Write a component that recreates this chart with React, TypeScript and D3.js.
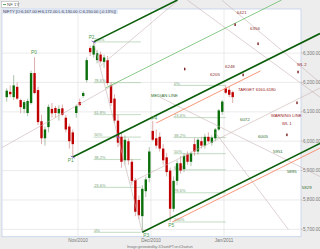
import React, { useEffect, useRef } from "react";
import * as d3 from "d3";

const W = 320;
const H = 249;

// ---- candle data (bar index 0..65) ----
const opens = [6150,6168,6150,6185,6140,6110,6096,6130,6232,6174,6068,6010,6048,6110,6113,6095,6112,6080,6050,6030,6096,6133,6154,6208,6317,6295,6276,6295,6270,6276,6190,6145,6070,6015,5935,6000,5930,5868,5800,5745,5830,5875,6035,6010,6015,5975,5945,5900,5770,5865,5925,5905,5955,5930,5990,5965,6000,5985,6015,5995,6010,6040,6100,6180,6175,6167];
const highs = [6180,6190,6225,6200,6145,6140,6145,6240,6286,6185,6090,6050,6125,6130,6120,6122,6125,6090,6060,6040,6125,6145,6170,6285,6325,6338,6310,6305,6295,6290,6200,6160,6090,6030,6020,6010,5940,5875,5815,5850,5880,5980,6069,6040,6030,5990,5960,5910,5880,5935,5950,5960,5965,5965,6010,6010,6015,6025,6030,6020,6045,6110,6140,6190,6185,6172];
const lows = [6135,6150,6140,6140,6095,6095,6085,6125,6160,6055,5990,5985,6030,6080,6080,6070,6085,6030,5975,5946,6080,6118,6148,6200,6290,6285,6265,6265,6250,6190,6120,6060,5980,5910,5920,5920,5850,5745,5735,5690,5810,5860,6000,5975,5965,5920,5880,5725,5760,5850,5890,5895,5920,5915,5950,5955,5975,5975,5995,5985,6000,6035,6090,6160,6150,6130];
const closes = [6172,6160,6190,6145,6116,6133,6137,6232,6164,6065,6010,6040,6117,6095,6096,6110,6090,6040,6000,5990,6120,6123,6164,6276,6303,6325,6300,6272,6285,6198,6130,6070,5995,5930,6005,5935,5865,5760,5748,5838,5870,5965,6005,5985,5975,5935,5895,5770,5865,5925,5900,5950,5930,5958,5965,6005,5985,6015,6000,6012,6040,6105,6135,6165,6158,6150];

// ---- axes ----
const priceTicks = [5700, 5800, 5900, 6000, 6100, 6200, 6300];
const timeTickPos = [20.5, 41.5, 62.5];
const timeTickLabels = ["Nov/2010", "Dec/2010", "Jan/2011"];

// ---- pivots ----
const pivotNames = ["P0", "P1", "P2", "P3", "P4", "P5"];
const pivotIdx = [8.4, 19, 25, 39, 43, 47.6];
const pivotPrice = [6286, 5946, 6338, 5690, 6062, 5725];

// ---- pitchfork (slope in price per bar) ----
const forkSlope = 5.915;
const forkEndIdx = 90.1;
const topPrice = 6480.6;

// ---- fibonacci retracements ----
const fibLevels = [0, 0.236, 0.382, 0.5, 0.618, 0.786, 1];
const fibLabels = ["0%", "23.6%", "38.2%", "50%", "61.8%", "78.6%", "100%"];
const fib1 = { from: 25, to: 38.6, low: 5690, high: 6338 };
const fib2 = { from: 48, to: 63, low: 5725, high: 6190 };

// ---- target numbers ----
const targetText = ["6421", "6356", "6248", "6205", "6072", "6005", "5951", "5895", "5829"];
const targetIdx = [66.2, 70, 62.8, 58.5, 67.1, 72.3, 76.6, 80.6, 84.9];
const targetPrice = [6433, 6379, 6249, 6222, 6069, 6011, 5960, 5892, 5837];
const targetTone = ["r", "r", "r", "r", "g", "g", "g", "g", "g"];

// ---- small target markers ----
const markIdx = [65.7, 72.3, 68, 80.6, 83.5, 83.8, 51.2];
const markPrice = [6396, 6331, 6225, 6021, 6130, 6235, 6245];

// ---- other labels ----
const noteText = ["MEDIAN LINE", "TARGET 6160-6180", "WARNING LINE", "WL 1", "WL 2"];
const noteIdx = [41.5, 66.5, 76, 79.2, 83.5];
const notePrice = [6150, 6170, 6083, 6055, 6255];
const noteTone = ["g", "r", "r", "r", "r"];

// ---- extra gray lines (index, price) pairs ----
const grayLines = [
  [[-1.4, 5978], [32, 6200]],
  [[26.8, 6255], [49.3, 6480]],
  [[61.9, 6480], [90.1, 6200]],
  [[52, 6480], [90.1, 6150]],
  [[44, 6150], [90.1, 5880]],
  [[60, 6030], [81, 5700]],
];

export default function App() {
  const ref = useRef<SVGSVGElement>(null);

  useEffect(() => {
    const svg = d3.select(ref.current);
    svg.selectAll("*").remove();
    const font = "Liberation Sans, Arial, sans-serif";

    const x = d3.scaleLinear().domain([-1.364, 84.65]).range([2, 301]);
    const y = d3.scaleLinear().domain([5675, 6450]).range([236.7, 9]);

    svg.append("rect").attr("width", W).attr("height", H).attr("fill", "#ededed");
    svg.append("rect").attr("x", 2).attr("y", 9).attr("width", 299).attr("height", 227.7)
      .attr("fill", "#ffffff").attr("stroke", "#c2d0ec").attr("stroke-width", 0.8);

    const g = svg.append("g");
    g.selectAll(".hg").data(priceTicks).join("line")
      .attr("x1", 2).attr("x2", 301).attr("y1", d => y(d)).attr("y2", d => y(d))
      .attr("stroke", "#e2e2e2").attr("stroke-width", 0.7);
    g.selectAll(".vg").data(timeTickPos).join("line")
      .attr("x1", d => x(d)).attr("x2", d => x(d)).attr("y1", 9).attr("y2", 236.7)
      .attr("stroke", "#e2e2e2").attr("stroke-width", 0.7);

    g.selectAll(".yl").data(priceTicks).join("text")
      .attr("x", 303).attr("y", d => y(d) + 1.5)
      .attr("font-size", 4.6).attr("font-family", font).attr("fill", "#777")
      .text(d => d3.format(",.2f")(d));
    g.selectAll(".yt").data(priceTicks).join("line")
      .attr("x1", 301).attr("x2", 302.5).attr("y1", d => y(d)).attr("y2", d => y(d))
      .attr("stroke", "#999").attr("stroke-width", 0.5);

    g.selectAll(".xl").data(timeTickPos).join("text")
      .attr("x", d => x(d)).attr("y", 241.5).attr("text-anchor", "middle")
      .attr("font-size", 4.6).attr("font-family", font).attr("fill", "#777")
      .text((d, i) => timeTickLabels[i]);

    svg.append("text").attr("x", 160).attr("y", 247.5).attr("text-anchor", "middle")
      .attr("font-size", 4.3).attr("font-family", font).attr("fill", "#888")
      .attr("textLength", 66).text("Image generated by JChartsFT on iCharts.in");

    const fibColor = "#a9cba9";
    const drawFib = (f: any, downFromHigh: boolean) => {
      const lv = fibLevels.map((l, i) => ({
        p: downFromHigh ? f.high - l * (f.high - f.low) : f.low + l * (f.high - f.low),
        t: fibLabels[i],
      }));
      g.selectAll(null).data(lv).join("line")
        .attr("x1", x(f.from)).attr("x2", x(f.to))
        .attr("y1", d => y(d.p)).attr("y2", d => y(d.p))
        .attr("stroke", fibColor).attr("stroke-width", 0.7);
      g.selectAll(null).data(lv).join("text")
        .attr("x", x(f.from) + 0.5).attr("y", d => y(d.p) - 0.6)
        .attr("font-size", 4).attr("font-family", font).attr("fill", "#7aa57a")
        .text(d => d.t);
    };
    drawFib(fib1, false);
    drawFib(fib2, true);

    const bars = opens.map((o, i) => ({ i, o, h: highs[i], l: lows[i], c: closes[i] }));
    const up = "#0a6e0a";
    const dn = "#c00000";
    g.selectAll(".wick").data(bars).join("line")
      .attr("x1", d => x(d.i)).attr("x2", d => x(d.i))
      .attr("y1", d => y(d.h)).attr("y2", d => y(d.l))
      .attr("stroke", d => (d.c >= d.o ? "#8aa88a" : "#d08a8a")).attr("stroke-width", 0.7);
    g.selectAll(".body").data(bars).join("rect")
      .attr("x", d => x(d.i) - 1.2).attr("width", 2.4)
      .attr("y", d => y(Math.max(d.o, d.c)))
      .attr("height", d => Math.max(0.8, Math.abs(y(d.o) - y(d.c))))
      .attr("fill", d => (d.c >= d.o ? up : dn));

    const line = (a: number[], b: number[], color: string, w: number) =>
      g.append("line").attr("x1", x(a[0])).attr("y1", y(a[1]))
        .attr("x2", x(b[0])).attr("y2", y(b[1]))
        .attr("stroke", color).attr("stroke-width", w);

    grayLines.forEach(s => line(s[0], s[1], "#c9b3b3", 0.6));

    const [, p1i, p2i, p3i, p4i, p5i] = pivotIdx;
    const [, p1p, p2p, p3p, p4p, p5p] = pivotPrice;
    line([p2i, p2p], [p3i, p3p], "#c9b3b3", 0.6);
    const upHalfStart = [28.4, 6181];
    const loHalfStart = [35.5, 5858];
    line(upHalfStart, [upHalfStart[0] + (topPrice - upHalfStart[1]) / forkSlope, topPrice], "#6cbf6c", 0.8);
    line(loHalfStart, [forkEndIdx, loHalfStart[1] + (forkEndIdx - loHalfStart[0]) * forkSlope], "#c9b3b3", 0.6);
    line([p4i, p4p], [73, p4p + (73 - p4i) * forkSlope], "#f58a6a", 0.9);
    line([p5i, p5p], [forkEndIdx, p5p + (forkEndIdx - p5i) * forkSlope], "#f58a6a", 0.9);
    const green = "#0b5e0b";
    line([p1i, p1p], [forkEndIdx, p1p + (forkEndIdx - p1i) * forkSlope], green, 1.6);
    line([p2i, p2p], [p2i + (topPrice - p2p) / forkSlope, topPrice], green, 1.6);
    line([p3i, p3p], [forkEndIdx, p3p + (forkEndIdx - p3i) * forkSlope], green, 1.6);

    // pitchfork handle markers (purple)
    const midI = (p2i + p3i) / 2;
    const midP = (p2p + p3p) / 2;
    [[p2i, p2p], [midI, midP], [p1i, p1p]].forEach(pt => {
      g.append("line")
        .attr("x1", x(pt[0]) - 2).attr("x2", x(pt[0]) + 2)
        .attr("y1", y(pt[1]) - 1).attr("y2", y(pt[1]) + 1)
        .attr("stroke", "#8a5ad0").attr("stroke-width", 0.9);
    });

    // small target markers
    g.selectAll(".mk").data(markIdx).join("rect")
      .attr("x", d => x(d) - 0.7).attr("y", (d, i) => y(markPrice[i]) - 1.5)
      .attr("width", 1.4).attr("height", 2.6).attr("fill", "#7a1f1f");

    g.selectAll(".pl").data(pivotNames).join("text")
      .attr("x", (d, i) => x(pivotIdx[i]) + (i === 3 ? 1 : i === 5 ? -4 : -5))
      .attr("y", (d, i) => y(pivotPrice[i]) + (i === 1 || i === 3 || i === 5 ? 5 : -3))
      .attr("font-size", 4.8).attr("font-family", font).attr("fill", "#4f9a4f")
      .text(d => d);

    g.selectAll(".tg").data(targetText).join("text")
      .attr("x", (d, i) => x(targetIdx[i])).attr("y", (d, i) => y(targetPrice[i]))
      .attr("font-size", 4.4).attr("font-family", font)
      .attr("fill", (d, i) => (targetTone[i] === "r" ? "#8a3030" : "#2f6f2f"))
      .text(d => d);

    g.selectAll(".nt").data(noteText).join("text")
      .attr("x", (d, i) => x(noteIdx[i])).attr("y", (d, i) => y(notePrice[i]))
      .attr("font-size", 4.2).attr("font-family", font)
      .attr("fill", (d, i) => (noteTone[i] === "r" ? "#9a2020" : "#2f6f2f"))
      .text(d => d);

    svg.append("rect").attr("x", 1.5).attr("y", 1.5).attr("width", 17).attr("height", 6)
      .attr("fill", "#fff").attr("stroke", "#aaa").attr("stroke-width", 0.5);
    svg.append("line").attr("x1", 3).attr("x2", 6).attr("y1", 4.5).attr("y2", 4.5)
      .attr("stroke", "#3a8a3a").attr("stroke-width", 0.8);
    svg.append("text").attr("x", 7).attr("y", 6.3).attr("font-size", 4.4)
      .attr("font-family", font).attr("fill", "#555").text("NF 1Y");
    svg.append("rect").attr("x", 2).attr("y", 8.5).attr("width", 116).attr("height", 5.2)
      .attr("fill", "#dfe7f6");
    svg.append("text").attr("x", 3).attr("y", 12.6).attr("font-size", 4.2)
      .attr("font-family", font).attr("fill", "#445").attr("textLength", 113)
      .text("NIFTY [O:6,167.00 H:6,172.00 L:6,130.00 C:6,150.00 (-0.13%)]");
  }, []);

  return (
    <svg ref={ref} width={W} height={H}
      style={{ position: "fixed", left: 0, top: 0, display: "block" }} />
  );
}
